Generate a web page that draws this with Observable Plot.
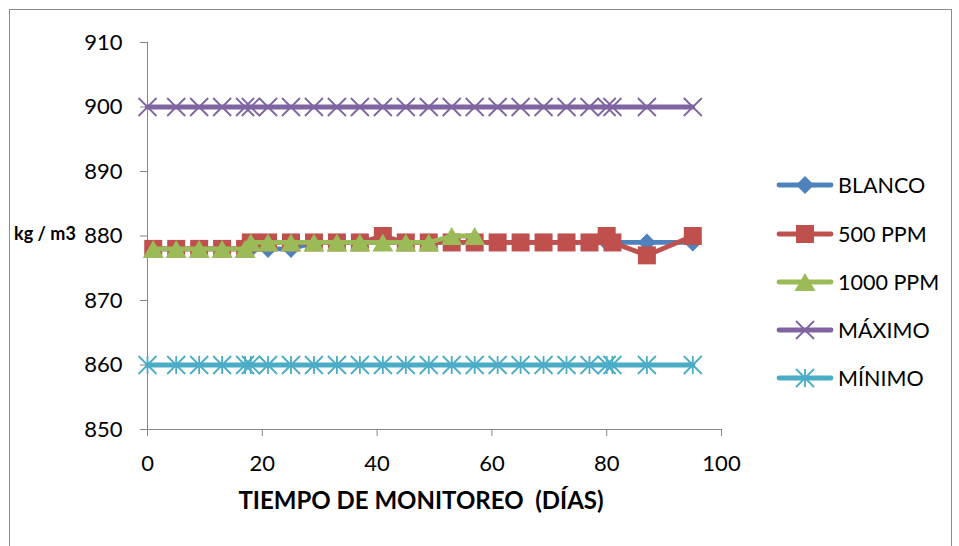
<!DOCTYPE html>
<html><head><meta charset="utf-8">
<script src="https://cdn.jsdelivr.net/npm/d3@7"></script>
<script src="https://cdn.jsdelivr.net/npm/@observablehq/plot@0.6"></script>
<style>
html,body{margin:0;padding:0;background:#fff;}
#wrap{position:relative;width:959px;height:546px;overflow:hidden;font-family:Lato, sans-serif;}
#chart{position:absolute;left:0;top:0;}
#frame{position:absolute;left:9px;top:9px;width:941px;height:560px;border:1px solid #8c8c8c;pointer-events:none;}
#legend{position:absolute;left:777px;top:0;}
.item{position:absolute;left:0;height:30px;display:flex;align-items:center;font-size:21.5px;color:#000;white-space:nowrap;}
.item svg{margin-right:5px;overflow:visible;}
.title{position:absolute;font-weight:bold;color:#000;white-space:pre;line-height:1;transform:translate(-50%,-50%);}
#xtitle{left:421px;top:500px;font-size:24px;}
#ytitle{left:45px;top:233px;font-size:18px;}
</style></head>
<body><div id="wrap"><div id="chart"></div><div id="legend"></div>
<div class="title" id="xtitle">TIEMPO DE MONITOREO  (DÍAS)</div>
<div class="title" id="ytitle">kg / m3</div>
<div id="frame"></div></div>
<script>
// ---- data ----
const days = [1,5,9,13,17,18,21,25,29,33,37,41,45,49,53,57,61,65,69,73,77,80,81,87,95];
const limitDays = [0,5,9,13,17,18,21,25,29,33,37,41,45,49,53,57,61,65,69,73,77,80,81,87,95];
const blanco = [878,878,878,878,878,878,878,878,879,879,879,879,879,879,879,879,879,879,879,879,879,879,879,879,879];
const ppm500 = [878,878,878,878,878,879,879,879,879,879,879,880,879,879,879,879,879,879,879,879,879,880,879,877,880];
const days1000 = [1,5,9,13,17,18,21,25,29,33,37,41,45,49,53,57];
const ppm1000 = [878,878,878,878,878,879,879,879,879,879,879,879,879,879,880,880];
const maximo = [900,900,900,900,900,900,900,900,900,900,900,900,900,900,900,900,900,900,900,900,900,900,900,900,900];
const minimo = [860,860,860,860,860,860,860,860,860,860,860,860,860,860,860,860,860,860,860,860,860,860,860,860,860];
const seriesNames = ["BLANCO","500 PPM","1000 PPM","MÁXIMO","MÍNIMO"];
const xTicks = [0,20,40,60,80,100];
const yTicks = [850,860,870,880,890,900,910];

// ---- styles ----
const colors = ["#4F81BD","#C0504D","#9BBB59","#8064A2","#4BACC6"];
const symDiamond = {draw(c){const h=9;c.moveTo(0,-h);c.lineTo(h,0);c.lineTo(0,h);c.lineTo(-h,0);c.closePath();}};
const symSquare = {draw(c){const h=9;c.moveTo(-h,-h);c.lineTo(h,-h);c.lineTo(h,h);c.lineTo(-h,h);c.closePath();}};
const symTriangle = {draw(c){c.moveTo(0,-9);c.lineTo(10.5,9);c.lineTo(-10.5,9);c.closePath();}};
const symTimes = {draw(c){const h=9;c.moveTo(-h,-h);c.lineTo(h,h);c.moveTo(-h,h);c.lineTo(h,-h);}};
const symStar = {draw(c){const h=9;c.moveTo(-h,-h);c.lineTo(h,h);c.moveTo(-h,h);c.lineTo(h,-h);c.moveTo(0,-h);c.lineTo(0,h);}};
const symbols = [symDiamond,symSquare,symTriangle,symTimes,symStar];
const filled = [true,true,true,false,false];

const toRows = (xs, ys) => xs.map((d,i)=>({day:d, value:ys[i]}));
const series = [
  toRows(days, blanco),
  toRows(days, ppm500),
  toRows(days1000, ppm1000),
  toRows(limitDays, maximo),
  toRows(limitDays, minimo)
];

const marks = [
  Plot.ruleY([850], {stroke:"#868686", strokeWidth:1}),
  Plot.ruleX([0], {stroke:"#868686", strokeWidth:1}),
  Plot.axisY({ticks:yTicks, tickSize:7, tickPadding:18, stroke:"#868686", fill:"black", tickFormat:d=>String(d)}),
  Plot.axisX({ticks:xTicks, tickSize:7, tickPadding:19, stroke:"#868686", fill:"black", tickFormat:d=>String(d)})
];
series.forEach((rows,i)=>{
  marks.push(Plot.line(rows, {x:"day", y:"value", stroke:colors[i], strokeWidth:4.8, strokeLinejoin:"round", strokeLinecap:"round"}));
  marks.push(Plot.dot(rows, {x:"day", y:"value", symbol:symbols[i],
    fill: filled[i] ? colors[i] : "none",
    stroke: filled[i] ? "none" : colors[i],
    strokeWidth: filled[i] ? 0 : 1.8}));
});

const chart = Plot.plot({
  width:959, height:546,
  marginLeft:147, marginRight:238, marginTop:42, marginBottom:117,
  x:{domain:[0,100], label:null},
  y:{domain:[850,910], label:null},
  style:{fontFamily:"Lato, sans-serif", fontSize:"22px", color:"black", background:"transparent", overflow:"visible"},
  marks
});
document.getElementById("chart").appendChild(chart);

// ---- legend ----
const legend = document.getElementById("legend");
const legendY = [185,234,282,330,378];
seriesNames.forEach((name,i)=>{
  const item = document.createElement("div");
  item.className = "item";
  item.style.top = (legendY[i]-15) + "px";
  const p = d3.symbol().type(symbols[i])();
  item.innerHTML = `<svg width="56" height="30"><line x1="2" x2="54" y1="15" y2="15" stroke="${colors[i]}" stroke-width="4.8" stroke-linecap="round"/>`+
    `<path transform="translate(28,15)" d="${p}" fill="${filled[i]?colors[i]:"none"}" stroke="${filled[i]?"none":colors[i]}" stroke-width="1.8"/></svg><span>${name}</span>`;
  legend.appendChild(item);
});
</script>
</body></html>
